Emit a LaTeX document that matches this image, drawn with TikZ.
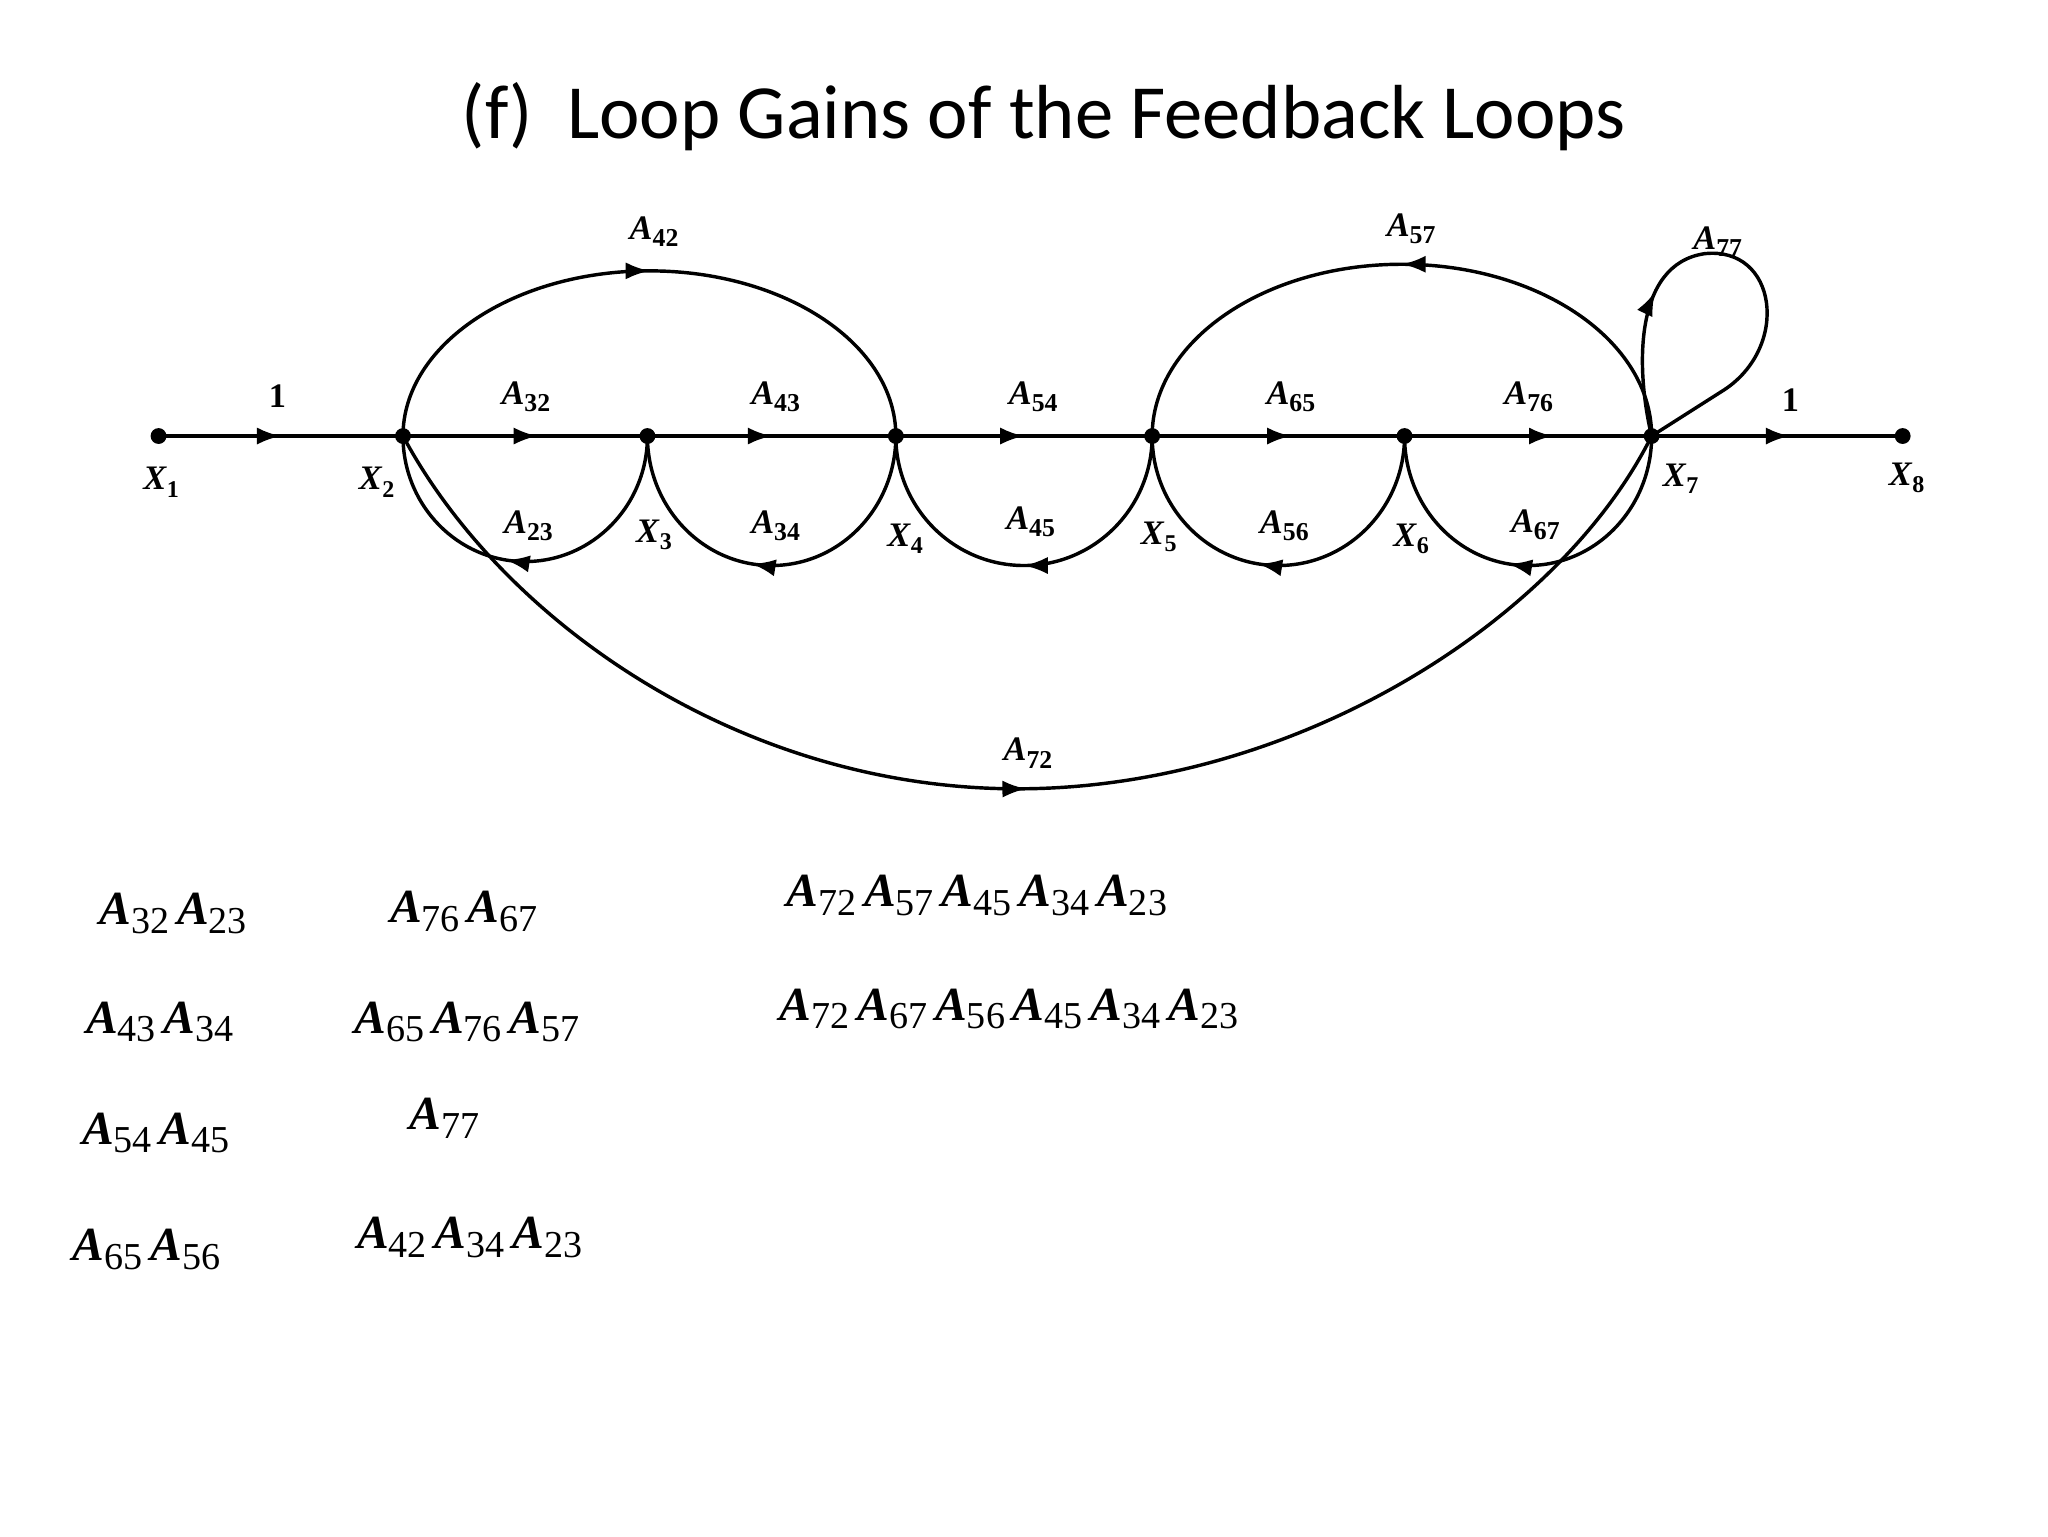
\documentclass[tikz,border=0pt]{standalone}
\usepackage{fontspec}
\setmainfont{Liberation Serif}
\newfontfamily\titlefont{Carlito}
\usetikzlibrary{decorations.markings,arrows.meta}
\newcommand\Ag[1]{\textbf{\textit{A}}\raisebox{-0.45ex}{\scalebox{0.75}{\textbf{#1}}}}
\newcommand\Al[1]{\textbf{\textit{A}}\raisebox{-0.4ex}{\scalebox{0.8}{#1}}\,}
\newcommand\Xl[1]{\textbf{\textit{X}}\raisebox{-0.45ex}{\scalebox{0.7}{\textbf{#1}}}}
\tikzset{
 dot/.style={circle,fill=black,inner sep=0pt,minimum size=12pt},
 br/.style={line width=2.6pt},
 mid/.style={postaction={decorate},decoration={markings,mark=at position #1 with {\arrow{Latex[length=18pt,width=13pt]}}}},
 el/.style={font=\fontsize{26}{28}\selectfont,inner sep=0pt},
 gl/.style={font=\fontsize{36}{40}\selectfont,anchor=base west,inner sep=0pt}
}
\begin{document}
\begin{tikzpicture}[x=1pt,y=-1pt]
\useasboundingbox (0,0) rectangle (1550,1162.5);
\node[font=\titlefont\fontsize{58}{64}\selectfont] (t) at (790,88) {(f)\ \ Loop Gains of the Feedback Loops};
\node[dot] (x1) at (120,330) {};
\node[dot] (x2) at (305,330) {};
\node[dot] (x3) at (490,330) {};
\node[dot] (x4) at (678,330) {};
\node[dot] (x5) at (872,330) {};
\node[dot] (x6) at (1063,330) {};
\node[dot] (x7) at (1250,330) {};
\node[dot] (x8) at (1440,330) {};
\draw[br,mid=0.5] (x1.center)--(x2.center);
\draw[br,mid=0.55] (x2.center)--(x3.center);
\draw[br,mid=0.5] (x3.center)--(x4.center);
\draw[br,mid=0.5] (x4.center)--(x5.center);
\draw[br,mid=0.55] (x5.center)--(x6.center);
\draw[br,mid=0.6] (x6.center)--(x7.center);
\draw[br,mid=0.55] (x7.center)--(x8.center);
% lower small arcs
\draw[br,mid=0.55] (x3.center) arc[start angle=0,end angle=180,x radius=92.5,y radius=95];
\draw[br,mid=0.55] (x4.center) arc[start angle=0,end angle=180,x radius=94,y radius=98];
\draw[br,mid=0.5] (x5.center) arc[start angle=0,end angle=180,x radius=97,y radius=98];
\draw[br,mid=0.55] (x6.center) arc[start angle=0,end angle=180,x radius=95.5,y radius=98];
\draw[br,mid=0.55] (x7.center) arc[start angle=0,end angle=180,x radius=93.5,y radius=98];
% upper arcs
\draw[br,mid=0.5] (x2.center) arc[start angle=180,end angle=360,x radius=186.5,y radius=125];
\draw[br,mid=0.5] (x7.center) arc[start angle=0,end angle=-180,x radius=189,y radius=130];
% self loop
\draw[br,mid=0.3] (x7.center) .. controls (1238,280) and (1236,200) .. (1290,192) .. controls (1345,186) and (1355,262) .. (1305,295) -- (x7.center);
% A72
\draw[br,mid=0.5] (x2.center) .. controls (380,470) and (560,597) .. (770,597) .. controls (980,597) and (1180,470) .. (x7.center);
% labels
\node[el] (l1) at (210,300) {\textbf{1}};
\node[el] (l32) at (398,300) {\Ag{32}};
\node[el] (l43) at (587,300) {\Ag{43}};
\node[el] (l54) at (782,300) {\Ag{54}};
\node[el] (l65) at (977,300) {\Ag{65}};
\node[el] (l76) at (1157,300) {\Ag{76}};
\node[el] (l1b) at (1355,303) {\textbf{1}};
\node[el] (l42) at (495,175) {\Ag{42}};
\node[el] (l57) at (1068,173) {\Ag{57}};
\node[el] (l77) at (1300,183) {\Ag{77}};
\node[el] (l23) at (400,398) {\Ag{23}};
\node[el] (l34) at (587,398) {\Ag{34}};
\node[el] (l45) at (780,395) {\Ag{45}};
\node[el] (l56) at (972,398) {\Ag{56}};
\node[el] (l67) at (1162,397) {\Ag{67}};
\node[el] (l72) at (778,570) {\Ag{72}};
\node[el] (n1) at (122,365) {\Xl{1}};
\node[el] (n2) at (285,365) {\Xl{2}};
\node[el] (n3) at (495,405) {\Xl{3}};
\node[el] (n4) at (685,408) {\Xl{4}};
\node[el] (n5) at (877,406) {\Xl{5}};
\node[el] (n6) at (1068,408) {\Xl{6}};
\node[el] (n7) at (1272,362) {\Xl{7}};
\node[el] (n8) at (1443,362) {\Xl{8}};
% gains
\node[gl] (g1) at (75,700) {\Al{32}\Al{23}};
\node[gl] (g2) at (65,782) {\Al{43}\Al{34}};
\node[gl] (g3) at (62,866) {\Al{54}\Al{45}};
\node[gl] (g4) at (55,954) {\Al{65}\Al{56}};
\node[gl] (g5) at (295,698) {\Al{76}\Al{67}};
\node[gl] (g6) at (268,782) {\Al{65}\Al{76}\Al{57}};
\node[gl] (g7) at (310,855) {\Al{77}};
\node[gl] (g8) at (270,945) {\Al{42}\Al{34}\Al{23}};
\node[gl] (g9) at (595,686) {\Al{72}\Al{57}\Al{45}\Al{34}\Al{23}};
\node[gl] (g10) at (590,772) {\Al{72}\Al{67}\Al{56}\Al{45}\Al{34}\Al{23}};
\end{tikzpicture}
\end{document}
